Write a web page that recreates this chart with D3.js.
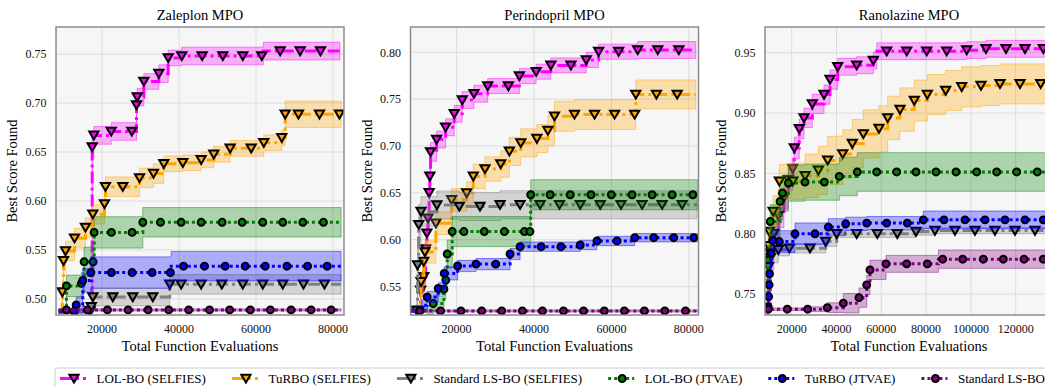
<!DOCTYPE html>
<html>
<head>
<meta charset="utf-8">
<script src="https://cdn.jsdelivr.net/npm/d3@7"></script>
<style>
  body { margin: 0; background: #fff; }
  svg text { font-family: 'Liberation Serif', 'Times New Roman', Times, 'DejaVu Serif', serif; }
</style>
</head>
<body>
<svg id="chart" width="1045" height="387"></svg>
<script>
// Series order (legend order)
const seriesNames = ['LOL-BO (SELFIES)', 'TuRBO (SELFIES)', 'Standard LS-BO (SELFIES)',
  'LOL-BO (JTVAE)', 'TuRBO (JTVAE)', 'Standard LS-BO (JTVAE)'];
const seriesColors = ['#ff00ff', '#ffa500', '#808080', '#008000', '#0000ff', '#800080'];
const seriesMarkers = ['tri', 'tri', 'tri', 'circle', 'circle', 'circle'];

// each point: [evaluations, mean best score, band half-width, (0 = no marker)]
// ---- Zaleplon MPO ----
const zalLolSelfies = [[8800,0.4875,0.002,0],[16900,0.4875,0.002],[17450,0.655,0.011],[17870,0.667,0.009],[22390,0.671,0.009],[27740,0.671,0.009],[28960,0.698,0.009],[29140,0.706,0.009],[30860,0.722,0.008],[34760,0.730,0.009],[37190,0.746,0.008],[40720,0.748,0.009],[46020,0.748,0.009],[51380,0.748,0.009],[56570,0.748,0.009],[61510,0.748,0.009],[61900,0.753,0.009,0],[66280,0.753,0.009],[71470,0.753,0.009],[76750,0.753,0.009],[81800,0.753,0.009,0]];
const zalTurboSelfies = [[8800,0.4875,0.002,0],[9700,0.507,0.008],[10000,0.539,0.010],[10520,0.549,0.010],[12860,0.562,0.010],[15700,0.573,0.010],[17610,0.5865,0.010],[20650,0.597,0.010],[20900,0.6146,0.010],[25400,0.6146,0.010],[29740,0.6235,0.010],[33370,0.628,0.010],[36050,0.638,0.008],[40990,0.639,0.008],[45760,0.642,0.008],[49040,0.6477,0.008],[53290,0.6538,0.008],[58750,0.6538,0.008],[62020,0.6595,0.008],[66700,0.6646,0.008],[67580,0.6885,0.0135],[71030,0.6885,0.0135],[76490,0.6885,0.0135],[81680,0.6885,0.0135],[82100,0.6885,0.0135,0]];
const zalStdSelfies = [[8800,0.4875,0.002,0],[16800,0.4875,0.003],[17200,0.492,0.005],[17610,0.502,0.009],[22800,0.502,0.009],[27990,0.502,0.009],[33190,0.502,0.009],[37590,0.515,0.010],[40570,0.515,0.010],[45760,0.515,0.010],[51120,0.515,0.010],[56570,0.515,0.010],[61760,0.515,0.010],[66960,0.515,0.010],[72330,0.515,0.010],[77780,0.515,0.010],[82100,0.515,0.010,0]];
const zalLolJtvae = [[8800,0.4875,0.002,0],[10760,0.5134,0.011],[14660,0.516,0.011],[15350,0.538,0.015],[17700,0.538,0.015],[17960,0.568,0.016],[22450,0.568,0.016],[27820,0.568,0.016],[30600,0.5783,0.015],[35190,0.5783,0.015],[40570,0.5783,0.015],[45760,0.5783,0.015],[51210,0.5783,0.015],[56400,0.5783,0.015],[61760,0.5783,0.015],[66960,0.5783,0.015],[72160,0.5783,0.015],[77520,0.5783,0.015],[82100,0.5783,0.015,0]];
const zalTurboJtvae = [[8800,0.4875,0.002,0],[12800,0.4875,0.004],[13300,0.494,0.008],[15010,0.519,0.012],[17070,0.527,0.016],[22450,0.527,0.016],[27820,0.527,0.016],[33020,0.527,0.016],[37770,0.527,0.016],[37950,0.5335,0.015,0],[41170,0.5335,0.015],[46620,0.5335,0.015],[52000,0.5335,0.015],[57190,0.5335,0.015],[62400,0.5335,0.015],[68030,0.5335,0.015],[73400,0.5335,0.015],[78490,0.5335,0.015],[82100,0.5335,0.015,0]];
const zalStdJtvae = [[8800,0.4889,0.001,0],[10760,0.4889,0.001],[16220,0.4889,0.001],[21410,0.4889,0.001],[26780,0.4889,0.001],[31980,0.4889,0.001],[37330,0.4889,0.001],[42520,0.4889,0.001],[47930,0.4889,0.001],[53160,0.4889,0.001],[58540,0.4889,0.001],[63740,0.4889,0.001],[69110,0.4889,0.001],[74310,0.4889,0.001],[79510,0.4889,0.001],[82100,0.4889,0.001,0]];

// ---- Perindopril MPO ----
const perLolSelfies = [[8300,0.5245,0.002,0],[10200,0.5245,0.002],[10700,0.546,0.006],[11500,0.5605,0.008],[12000,0.590,0.010],[12300,0.607,0.010],[12600,0.623,0.010],[12900,0.650,0.010],[13080,0.6676,0.010],[13260,0.6937,0.010],[14820,0.7069,0.009],[17150,0.720,0.009],[19380,0.7344,0.009],[21450,0.749,0.009],[24480,0.7558,0.009],[28030,0.764,0.008],[33370,0.764,0.008],[36220,0.7746,0.008],[40550,0.7793,0.008],[44350,0.786,0.008],[49540,0.786,0.008],[53500,0.7918,0.008],[56690,0.8007,0.008],[61870,0.8007,0.008],[66790,0.8025,0.009],[71980,0.8025,0.009],[77420,0.8025,0.009],[81800,0.8025,0.009,0]];
const perTurboSelfies = [[8300,0.5245,0.002,0],[10300,0.5245,0.004],[10800,0.555,0.010],[11500,0.5766,0.012],[11790,0.587,0.012],[14640,0.6176,0.012],[18700,0.6426,0.012],[22590,0.6498,0.012],[24300,0.6676,0.013],[27330,0.6755,0.013],[31400,0.6808,0.014],[33630,0.6943,0.015],[36580,0.7033,0.015],[40730,0.7079,0.015],[43580,0.7165,0.016],[45290,0.7318,0.016],[50470,0.7336,0.016],[55650,0.7336,0.016],[60830,0.7336,0.016],[66020,0.7336,0.016],[66300,0.755,0.0155],[71640,0.755,0.0155],[77000,0.755,0.0155],[81800,0.755,0.0155,0]];
const perStdSelfies = [[8300,0.5245,0.002,0],[9700,0.5245,0.010],[9900,0.573,0.030],[10200,0.616,0.022],[10800,0.630,0.016],[14900,0.637,0.015],[20700,0.6355,0.015],[26040,0.6355,0.015],[31220,0.6373,0.015],[36400,0.6373,0.015],[41580,0.6373,0.015],[46580,0.6373,0.015],[51940,0.6373,0.015],[57120,0.6373,0.015],[62480,0.6373,0.015],[67930,0.6373,0.015],[73110,0.6373,0.015],[78290,0.6373,0.015],[82100,0.6373,0.015,0]];
const perLolJtvae = [[8300,0.5245,0.002,0],[12500,0.5245,0.005,0],[13940,0.532,0.008],[16710,0.5473,0.010],[17200,0.557,0.012],[17570,0.5848,0.015],[18860,0.6087,0.016],[21890,0.6087,0.016],[27150,0.6087,0.016],[32330,0.6087,0.016],[37510,0.6087,0.016],[38950,0.6087,0.016],[39150,0.648,0.016],[44170,0.648,0.016],[49360,0.648,0.016],[54720,0.648,0.016],[59980,0.648,0.016],[65340,0.648,0.016],[70520,0.648,0.016],[75700,0.648,0.016],[81040,0.648,0.016],[82300,0.648,0.016,0]];
const perTurboJtvae = [[8300,0.5245,0.002,0],[10490,0.5245,0.003,0],[11000,0.530,0.006,0],[12390,0.539,0.006],[15240,0.548,0.006],[16790,0.5641,0.007],[20260,0.572,0.006],[25000,0.574,0.006],[30100,0.574,0.006],[33810,0.5848,0.006],[36400,0.5926,0.005],[41840,0.5926,0.005],[46950,0.5926,0.005],[51950,0.5944,0.005],[56270,0.5987,0.005],[61450,0.5987,0.005],[66020,0.6022,0.0045],[70940,0.6022,0.0045],[76120,0.6022,0.0045],[81300,0.6022,0.0045],[82300,0.6022,0.0045,0]];
const perStdJtvae = [[8300,0.5241,0.001,0],[10490,0.5241,0.001],[15850,0.5241,0.001],[21110,0.5241,0.001],[26480,0.5241,0.001],[31660,0.5241,0.001],[36990,0.5241,0.001],[42180,0.5241,0.001],[47620,0.5241,0.001],[52800,0.5241,0.001],[58170,0.5241,0.001],[63350,0.5241,0.001],[68530,0.5241,0.001],[73790,0.5241,0.001],[79160,0.5241,0.001],[82300,0.5241,0.001,0]];

// ---- Ranolazine MPO ----
const ranLolSelfies = [[8100,0.7375,0.002,0],[9500,0.7375,0.003,0],[10500,0.780,0.010],[12000,0.800,0.010],[14000,0.815,0.010],[16500,0.830,0.009],[18500,0.8448,0.009],[20440,0.854,0.009],[21160,0.8711,0.009],[23390,0.8869,0.008],[25490,0.896,0.008],[29200,0.9076,0.008],[34420,0.9154,0.008],[37100,0.9278,0.008],[40530,0.9384,0.007],[49010,0.9397,0.007],[56430,0.9436,0.007],[58000,0.9513,0.007,0],[62400,0.9513,0.007],[71340,0.9513,0.007],[80260,0.9513,0.007],[89190,0.9513,0.007],[98120,0.9522,0.007],[106740,0.9533,0.007],[115670,0.9533,0.007],[124150,0.9533,0.007],[132340,0.9533,0.007],[137000,0.9533,0.007,0]];
const ranTurboSelfies = [[8100,0.7375,0.002,0],[9300,0.7375,0.004,0],[9600,0.790,0.012],[10000,0.8018,0.012],[11700,0.8184,0.013],[14500,0.8434,0.014],[20500,0.8434,0.015],[26000,0.848,0.018],[31900,0.8525,0.020],[36070,0.8608,0.020],[42770,0.8661,0.020],[47050,0.8747,0.020],[51960,0.8827,0.020],[58970,0.8871,0.019],[62850,0.896,0.018],[68340,0.9029,0.018],[74730,0.9104,0.017],[80530,0.9154,0.0166],[88740,0.9187,0.0166],[95890,0.9218,0.0166],[104500,0.9228,0.0166],[112990,0.9242,0.0166],[121910,0.9242,0.0166],[131150,0.9242,0.0166],[137000,0.9242,0.0166,0]];
const ranStdSelfies = [[8100,0.7375,0.002,0],[9200,0.7375,0.004,0],[9600,0.7725,0.010],[10500,0.7839,0.008],[14000,0.7866,0.005],[18930,0.788,0.004],[28170,0.788,0.004],[35170,0.7935,0.004],[40090,0.7999,0.003],[49020,0.7999,0.003],[58230,0.7999,0.003],[67140,0.7999,0.003],[75490,0.8018,0.003],[83970,0.8026,0.0025],[92900,0.8026,0.0025],[101830,0.8026,0.0025],[110760,0.8026,0.0025],[119690,0.8026,0.0025],[128620,0.8026,0.0025],[137000,0.8026,0.0025,0]];
const ranLolJtvae = [[8100,0.7375,0.002,0],[9000,0.7375,0.004,0],[9300,0.7783,0.012],[10400,0.8101,0.014],[14800,0.8268,0.015],[15900,0.8337,0.015],[18500,0.842,0.015],[25940,0.8428,0.015],[34560,0.8428,0.015],[41250,0.8475,0.016],[49290,0.8512,0.016],[57940,0.8512,0.016],[66870,0.8512,0.016],[75490,0.8512,0.016],[84420,0.8512,0.016],[93350,0.8512,0.016],[102580,0.8512,0.016],[111510,0.8512,0.016],[120440,0.8512,0.016],[129640,0.8512,0.016],[137000,0.8512,0.016,0]];
const ranTurboJtvae = [[8100,0.7375,0.002,0],[9500,0.7395,0.003],[9700,0.7478,0.004],[9900,0.7576,0.005],[10100,0.7668,0.006],[10800,0.7839,0.008],[11500,0.7944,0.009],[14470,0.7935,0.009],[21470,0.7999,0.009],[30400,0.7999,0.009],[36340,0.8055,0.007],[44100,0.8082,0.0055],[53480,0.8088,0.0055],[62400,0.8088,0.0055],[71610,0.8088,0.0055],[78750,0.8115,0.0073],[87990,0.8115,0.0073],[97360,0.8115,0.0073],[106290,0.8115,0.0073],[115220,0.8115,0.0073],[124150,0.8115,0.0073],[132320,0.8115,0.0073],[137000,0.8115,0.0073,0]];
const ranStdJtvae = [[8100,0.7375,0.001,0],[9550,0.7374,0.001],[18030,0.7374,0.001],[27140,0.7374,0.002],[35890,0.7387,0.004],[43040,0.7424,0.008],[50040,0.747,0.008],[53480,0.7576,0.008],[54950,0.770,0.008],[62100,0.775,0.007],[71330,0.775,0.007],[80530,0.775,0.007],[85500,0.7789,0.0076,0],[87400,0.7789,0.0076],[96330,0.7789,0.0076],[105530,0.7789,0.0076],[114460,0.7789,0.0076],[123700,0.7789,0.0076],[132320,0.7789,0.0076],[137000,0.7789,0.0076,0]];

const panelTitles = ['Zaleplon MPO', 'Perindopril MPO', 'Ranolazine MPO'];
const panelSeries = [
  [zalLolSelfies, zalTurboSelfies, zalStdSelfies, zalLolJtvae, zalTurboJtvae, zalStdJtvae],
  [perLolSelfies, perTurboSelfies, perStdSelfies, perLolJtvae, perTurboJtvae, perStdJtvae],
  [ranLolSelfies, ranTurboSelfies, ranStdSelfies, ranLolJtvae, ranTurboJtvae, ranStdJtvae]
];
const panelXDomains = [[8050, 82860], [8080, 82510], [8080, 136650]];
const panelYDomains = [[0.4837, 0.7776], [0.5197, 0.827], [0.7326, 0.9714]];
const panelXTicks = [
  [20000, 40000, 60000, 80000],
  [20000, 40000, 60000, 80000],
  [20000, 40000, 60000, 80000, 100000, 120000]
];
const panelYTicks = [
  [0.50, 0.55, 0.60, 0.65, 0.70, 0.75],
  [0.55, 0.60, 0.65, 0.70, 0.75, 0.80],
  [0.75, 0.80, 0.85, 0.90, 0.95]
];

// layout
const panelLefts = [56, 410.5, 765];
const plotTop = 27;
const plotW = 288;
const plotH = 288;
const serif = "'Liberation Serif', 'Times New Roman', Times, 'DejaVu Serif', serif";

const svg = d3.select('#chart').style('font-family', serif);

function markerPath(type) {
  if (type === 'tri') return 'M-4.6,-3.8L4.6,-3.8L0,4.1Z';
  return d3.symbol().type(d3.symbolCircle).size(Math.PI * 12)();
}

function drawPanel(i) {
  const left = panelLefts[i];
  const g = svg.append('g').attr('transform', `translate(${left},${plotTop})`);

  const xScale = d3.scaleLinear().domain(panelXDomains[i]).range([0, plotW]);
  const yScale = d3.scaleLinear().domain(panelYDomains[i]).range([plotH, 0]);

  // background
  g.append('rect')
    .attr('width', plotW).attr('height', plotH)
    .attr('fill', '#f6f6f6');

  // grid
  g.selectAll('.vgrid').data(panelXTicks[i]).enter().append('line')
    .attr('x1', d => xScale(d)).attr('x2', d => xScale(d))
    .attr('y1', 0).attr('y2', plotH)
    .attr('stroke', '#dcdcdc').attr('stroke-width', 1);
  g.selectAll('.hgrid').data(panelYTicks[i]).enter().append('line')
    .attr('y1', d => yScale(d)).attr('y2', d => yScale(d))
    .attr('x1', 0).attr('x2', plotW)
    .attr('stroke', '#dcdcdc').attr('stroke-width', 1);

  const clipId = 'clip' + i;
  svg.append('clipPath').attr('id', clipId)
    .append('rect').attr('width', plotW).attr('height', plotH);

  const plot = g.append('g').attr('clip-path', `url(#${clipId})`);

  const area = d3.area()
    .x(d => xScale(d[0]))
    .y0(d => yScale(d[1] - d[2]))
    .y1(d => yScale(d[1] + d[2]))
    .curve(d3.curveStepAfter);

  const line = d3.line()
    .x(d => xScale(d[0]))
    .y(d => yScale(d[1]))
    .curve(d3.curveStepAfter);

  panelSeries[i].forEach((data, s) => {
    const color = seriesColors[s];
    const dash = seriesMarkers[s] === 'tri' ? '12,4,3,4' : '3,3';

    plot.append('path')
      .datum(data)
      .attr('d', area)
      .attr('fill', color).attr('fill-opacity', 0.3)
      .attr('stroke', color).attr('stroke-opacity', 0.45).attr('stroke-width', 1);

    plot.append('path')
      .datum(data)
      .attr('d', line)
      .attr('fill', 'none')
      .attr('stroke', color).attr('stroke-width', 3)
      .attr('stroke-dasharray', dash);

    plot.selectAll(null)
      .data(data.filter(d => d[3] !== 0))
      .enter().append('path')
      .attr('d', markerPath(seriesMarkers[s]))
      .attr('transform', d => `translate(${xScale(d[0])},${yScale(d[1])})`)
      .attr('fill', color)
      .attr('stroke', '#000').attr('stroke-width', 2);
  });

  // frame
  g.append('rect')
    .attr('width', plotW).attr('height', plotH)
    .attr('fill', 'none')
    .attr('stroke', '#8c8c8c').attr('stroke-width', 1.5);

  // tick labels
  g.selectAll('.ytick').data(panelYTicks[i]).enter().append('text')
    .attr('x', -9.5).attr('y', d => yScale(d)).attr('dy', '0.35em')
    .attr('text-anchor', 'end')
    .style('font-size', '12px').style('fill', '#111')
    .text(d => d3.format('.2f')(d));
  g.selectAll('.xtick').data(panelXTicks[i]).enter().append('text')
    .attr('x', d => xScale(d)).attr('y', plotH + 18)
    .attr('text-anchor', 'middle')
    .style('font-size', '12px').style('fill', '#111')
    .text(d => d);

  // title and axis labels
  g.append('text')
    .attr('x', plotW / 2).attr('y', -7)
    .attr('text-anchor', 'middle')
    .style('font-size', '14.5px')
    .text(panelTitles[i]);
  g.append('text')
    .attr('x', plotW / 2).attr('y', plotH + 36)
    .attr('text-anchor', 'middle')
    .style('font-size', '14.5px')
    .text('Total Function Evaluations');
  g.append('text')
    .attr('transform', `translate(-44,${plotH / 2}) rotate(-90)`)
    .attr('dy', '0.35em')
    .attr('text-anchor', 'middle')
    .style('font-size', '14.5px')
    .text('Best Score Found');
}

[0, 1, 2].forEach(drawPanel);

// legend
const legend = svg.append('g');
legend.append('rect')
  .attr('x', 55).attr('y', 368).attr('width', 1100).attr('height', 34)
  .attr('rx', 3)
  .attr('fill', '#fff').attr('stroke', '#cccccc').attr('stroke-width', 1);

let lx = 60;
seriesNames.forEach((name, s) => {
  const color = seriesColors[s];
  const dash = seriesMarkers[s] === 'tri' ? '12,4,3,4' : '3,3';
  const ly = 378.5;
  legend.append('line')
    .attr('x1', lx).attr('x2', lx + 26).attr('y1', ly).attr('y2', ly)
    .attr('stroke', color).attr('stroke-width', 3)
    .attr('stroke-dasharray', dash);
  legend.append('path')
    .attr('d', markerPath(seriesMarkers[s]))
    .attr('transform', `translate(${lx + 14},${ly})`)
    .attr('fill', color)
    .attr('stroke', '#000').attr('stroke-width', 2);
  const t = legend.append('text')
    .attr('x', lx + 36.5).attr('y', 383)
    .style('font-size', '13px')
    .text(name);
  lx = lx + 36.5 + t.node().getComputedTextLength() + 26;
});
</script>
</body>
</html>
